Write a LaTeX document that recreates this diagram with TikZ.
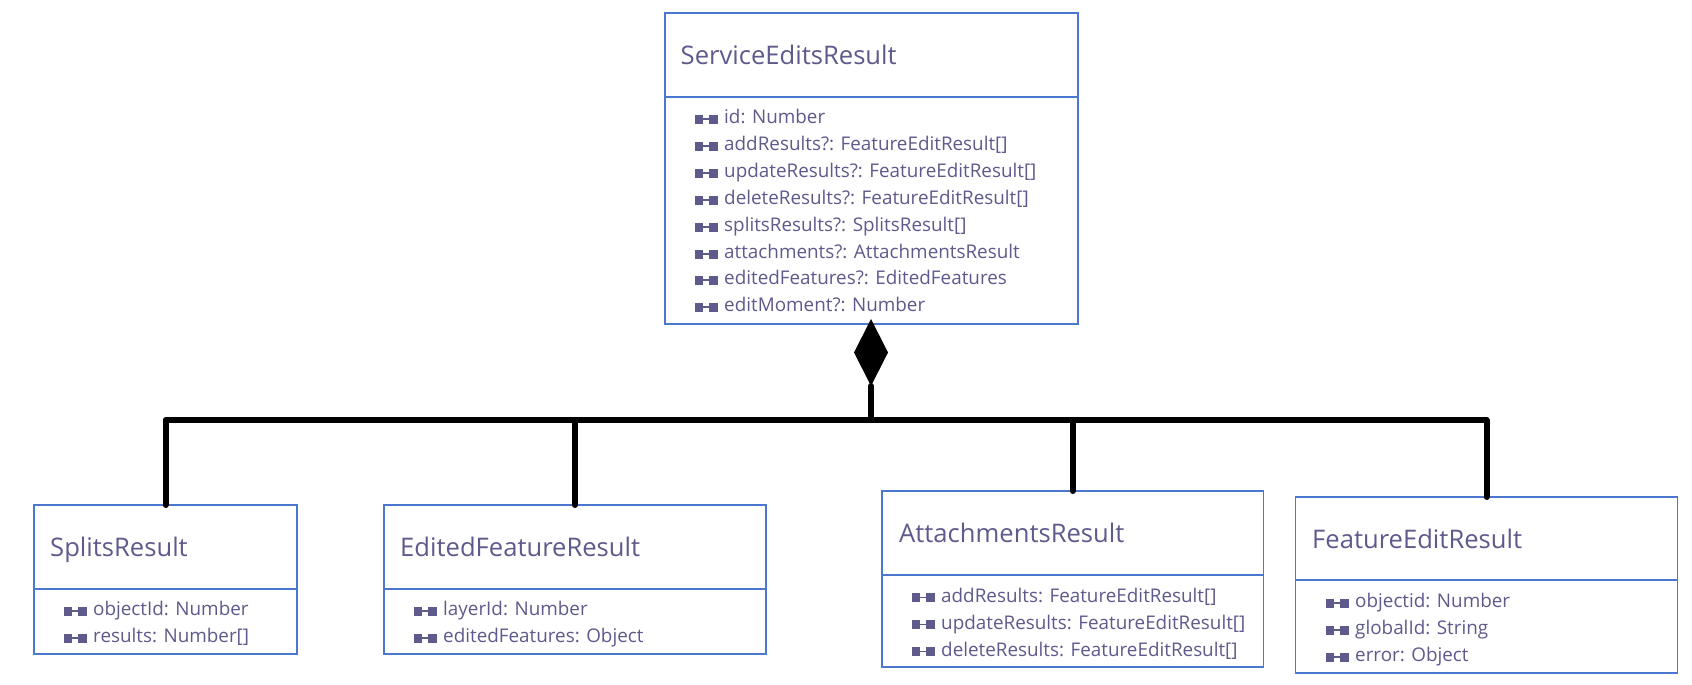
\documentclass[tikz,border=0pt]{standalone}
\usepackage{fontspec}
\setmainfont{Open Sans}
\usetikzlibrary{shapes.geometric}
\definecolor{boxblue}{HTML}{4A78CE}
\definecolor{ink}{HTML}{5F5A8C}
\newcommand{\titlefont}{\fontsize{25.6}{30}\selectfont}
\newcommand{\rowfont}{\fontsize{18.85}{22}\selectfont}
\tikzset{
  x=1pt,y=-1pt,
  umlbox/.style={draw=boxblue,line width=1.3pt,rectangle,inner sep=0pt,outer sep=0pt,anchor=north west},
  divider/.style={draw=boxblue,line width=1.3pt},
  titletext/.style={anchor=base west,inner sep=0pt,text=ink,font=\titlefont},
  rowtext/.style={anchor=base west,inner sep=0pt,text=ink,font=\rowfont},
  conn/.style={draw=black,line width=6pt,line cap=round,line join=round},
  compo/.style={shape=diamond,fill=black,draw=none,inner sep=0pt,outer sep=0pt,minimum width=34pt,minimum height=67pt},
}
\newcommand{\attr}[4]{%
  \fill[ink] (#2,#3-9) rectangle ++(8.3,9);
  \fill[ink] (#2+14.3,#3-9) rectangle ++(8.3,9);
  \fill[ink] (#2+8,#3-5.4) rectangle ++(6.5,1.6);
  \node[rowtext] (#1) at (#2+29,#3) {#4};
}
\newcommand{\umlclass}[6]{% name,l,t,r,b,div
  \node[umlbox,minimum width=#4pt-#2pt,minimum height=#5pt-#3pt] (#1) at (#2,#3) {};
  \draw[divider] (#1.west |- 0,#6) -- (#1.east |- 0,#6);
}
\begin{document}
\begin{tikzpicture}
\useasboundingbox (0,0) rectangle (1692,685);
\fill[white] (0,0) rectangle (1692,685);
\umlclass{main}{665}{13}{1078}{324}{97}
\umlclass{splits}{34}{505}{297}{654}{589}
\umlclass{edited}{384}{505}{766}{654}{589}
\umlclass{attach}{882}{491}{1263.5}{667}{575}
\umlclass{feature}{1295.5}{497}{1677.5}{673}{580}
\node[titletext] (tmain) at (680.5,64) {ServiceEditsResult};
\node[titletext] (tsplits) at (50,556.5) {SplitsResult};
\node[titletext] (tedited) at (400,556.5) {EditedFeatureResult};
\node[titletext] (tattach) at (899,542.5) {AttachmentsResult};
\node[titletext] (tfeature) at (1312,548.5) {FeatureEditResult};
\attr{m1}{695}{123.5}{id: Number}
\attr{m2}{695}{150.5}{addResults?: FeatureEditResult[]}
\attr{m3}{695}{177.5}{updateResults?: FeatureEditResult[]}
\attr{m4}{695}{204.5}{deleteResults?: FeatureEditResult[]}
\attr{m5}{695}{231.5}{splitsResults?: SplitsResult[]}
\attr{m6}{695}{258.5}{attachments?: AttachmentsResult}
\attr{m7}{695}{284.5}{editedFeatures?: EditedFeatures}
\attr{m8}{695}{311.5}{editMoment?: Number}
\attr{s1}{64}{615.5}{objectId: Number}
\attr{s2}{64}{642.5}{results: Number[]}
\attr{e1}{414}{615.5}{layerId: Number}
\attr{e2}{414}{642.5}{editedFeatures: Object}
\attr{a1}{912}{602}{addResults: FeatureEditResult[]}
\attr{a2}{912}{629}{updateResults: FeatureEditResult[]}
\attr{a3}{912}{656}{deleteResults: FeatureEditResult[]}
\attr{f1}{1326}{607.5}{objectid: Number}
\attr{f2}{1326}{634.5}{globalId: String}
\attr{f3}{1326}{661.5}{error: Object}
\node[compo] (dia) at (871,352.5) {};
\coordinate (bus) at (871,420);
\draw[conn] (dia.south) -- (bus);
\draw[conn] (splits.north) |- (bus);
\draw[conn] (edited.north) |- (bus);
\draw[conn] (attach.north) |- (bus);
\draw[conn] (feature.north) |- (bus);
\end{tikzpicture}
\end{document}
